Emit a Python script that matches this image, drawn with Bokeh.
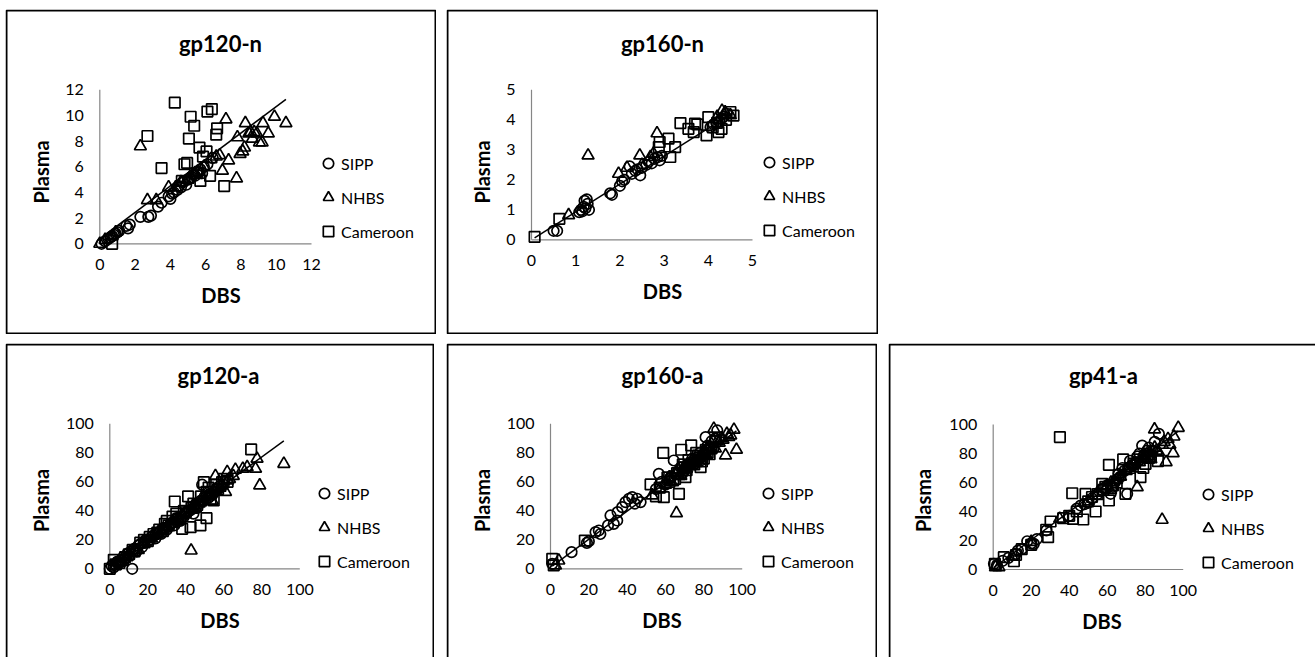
from bokeh.plotting import figure
from bokeh.models import Range1d, FixedTicker, Label, Legend, LegendItem, Spacer, BoxAnnotation
from bokeh.layouts import row, column
from bokeh.embed import file_html
from bokeh.resources import INLINE

FONT = "Lato"

# ---------------- data ----------------
titles = ["gp120-n", "gp160-n", "gp120-a", "gp160-a", "gp41-a"]
series_names = ["SIPP", "NHBS", "Cameroon"]

# gp120-n
sipp1_x = [0.1, 0.3, 0.5, 0.6, 0.7, 0.8, 0.9, 1.0, 1.1, 1.5, 1.6, 1.7, 2.3, 2.75, 2.9, 3.3, 3.5, 3.9, 4.0, 4.1, 4.2, 4.4, 4.5, 4.6, 4.7, 4.8, 4.9, 5.0, 5.1, 5.2, 5.3, 5.4, 5.5, 5.6, 5.7, 5.8, 5.9, 6.1, 6.4]
sipp1_y = [0.0, 0.2, 0.4, 0.5, 0.6, 0.7, 0.8, 0.9, 1.0, 1.4, 1.2, 1.5, 2.1, 2.1, 2.2, 2.9, 3.2, 3.7, 3.5, 3.9, 4.0, 4.2, 4.5, 4.4, 4.8, 4.9, 4.6, 5.0, 5.1, 5.2, 5.4, 5.3, 5.6, 5.6, 5.8, 5.5, 6.0, 6.2, 6.7]
nhbs1_x = [0.0, 0.3, 0.7, 0.9, 2.3, 2.7, 3.2, 3.9, 4.3, 4.6, 5.0, 5.4, 5.9, 6.3, 6.6, 6.8, 6.95, 7.15, 7.3, 7.75, 7.8, 7.95, 8.1, 8.2, 8.25, 8.45, 8.55, 8.65, 8.75, 8.9, 9.05, 9.2, 9.25, 9.55, 9.9, 10.55]
nhbs1_y = [0.0, 0.3, 0.6, 0.9, 7.6, 3.4, 3.4, 4.4, 4.4, 4.8, 5.0, 5.5, 6.0, 6.6, 6.8, 6.9, 5.7, 9.7, 6.5, 5.1, 8.3, 7.0, 7.2, 7.5, 9.4, 8.6, 8.7, 8.2, 8.7, 8.6, 7.9, 7.9, 9.4, 8.6, 9.9, 9.4]
cam1_x = [0.7, 2.7, 3.5, 4.25, 4.65, 4.8, 4.95, 5.05, 5.15, 5.35, 5.5, 5.65, 5.7, 5.85, 6.05, 6.1, 6.25, 6.35, 6.6, 6.65, 7.05]
cam1_y = [0.0, 8.4, 5.9, 11.0, 4.9, 6.2, 6.3, 8.2, 9.9, 9.2, 5.5, 7.5, 4.9, 6.8, 7.2, 10.3, 5.3, 10.5, 8.5, 9.0, 4.5]

# gp160-n
sipp2_x = [0.5, 0.58, 1.08, 1.12, 1.15, 1.18, 1.2, 1.22, 1.25, 1.27, 1.3, 1.78, 1.82, 2.0, 2.05, 2.1, 2.22, 2.27, 2.35, 2.4, 2.46, 2.5, 2.6, 2.65, 2.72, 2.78, 2.85, 2.9, 2.95, 4.05, 4.12, 4.18, 4.25, 4.3, 4.35, 4.42]
sipp2_y = [0.3, 0.3, 0.92, 1.0, 0.95, 1.1, 1.3, 1.05, 1.35, 1.2, 1.0, 1.55, 1.5, 1.8, 1.95, 2.0, 2.45, 2.2, 2.3, 2.35, 2.15, 2.4, 2.5, 2.6, 2.55, 2.7, 2.75, 2.65, 2.8, 3.75, 3.85, 3.9, 3.95, 4.05, 4.1, 4.2]
nhbs2_x = [0.84, 1.28, 1.97, 2.16, 2.45, 2.5, 2.69, 2.76, 2.84, 4.2, 4.31, 4.38, 4.5]
nhbs2_y = [0.82, 2.81, 2.2, 2.4, 2.81, 2.5, 2.76, 2.87, 3.55, 4.1, 4.3, 4.25, 4.15]
cam2_x = [0.07, 0.63, 2.88, 2.9, 3.1, 3.14, 3.25, 3.37, 3.55, 3.67, 3.7, 3.75, 3.96, 4.0, 4.1, 4.2, 4.23, 4.3, 4.4, 4.5, 4.57]
cam2_y = [0.1, 0.7, 3.09, 3.26, 3.37, 2.76, 3.09, 3.89, 3.7, 3.59, 3.87, 3.85, 3.48, 4.09, 3.75, 3.9, 3.59, 3.7, 4.0, 4.26, 4.14]

# gp120-a
sipp3_x = [0, 1, 2, 3, 4, 5, 6, 7, 8, 9, 10, 11.8, 12, 13, 14, 15, 16, 17, 18, 19, 20, 21, 22, 23, 24, 25, 26, 27, 28, 29, 30, 31, 32, 33, 34, 35, 36, 37, 38, 39, 40, 41, 42, 43, 44, 45, 46, 47, 48, 48.6, 49, 50, 51, 52, 53, 54, 55, 56, 57, 58, 60]
sipp3_y = [0, 2, 1, 3, 5, 4, 6, 8, 7, 10, 11, 0, 13, 14, 12, 16, 17, 15, 18, 20, 19, 20, 22, 23, 21, 25, 25, 24, 28, 28, 27, 29, 31, 32, 30, 35, 35, 33, 36, 36, 38, 40, 40, 41, 38, 44, 42, 45, 47, 58, 47, 50, 50, 49, 52, 51, 53, 55, 55, 57, 58]
nhbs3_x = [3, 5, 6, 9, 10, 12, 15, 18, 20, 22, 25, 28, 30, 33, 35, 36, 38, 40, 42.8, 43, 45, 47, 48, 50, 52, 53.9, 55.6, 56, 58, 59, 60.9, 61.8, 62, 63, 65, 66.1, 70, 72.3, 76.7, 77.5, 78.9, 91.6]
nhbs3_y = [2, 4, 5, 8, 9, 11, 13, 17, 19, 21, 24, 27, 29, 31, 33, 34, 37, 39, 12.6, 41, 42, 45, 46, 48, 50, 47, 64, 55, 56, 58, 53, 66.7, 61, 62, 64, 68.3, 69, 70.1, 69, 75.9, 57.5, 72.4]
cam3_x = [0, 2.1, 3, 5, 7, 8, 10, 12, 13, 16, 18, 20, 21, 23, 25, 26, 28, 29, 30, 31, 33, 34.2, 35, 36, 38.1, 39, 40, 41.2, 42.5, 43, 44, 46, 47.7, 48, 49.5, 50.9, 51, 52, 53, 54.7, 56, 57, 59.1, 60, 62, 74.4]
cam3_y = [0, 6.2, 3, 4, 6, 8, 10, 13, 12, 18, 20, 19, 22, 24, 25, 27, 26, 31, 33, 30, 36, 46.4, 38, 34, 27.6, 40, 39, 49.9, 28.7, 42, 45, 44, 29.9, 50, 59.8, 34.9, 53, 56, 48, 47.1, 58, 55, 59.8, 62, 60, 82.3]

# gp160-a
sipp4_x = [0.9, 11, 19, 20, 23.5, 25.2, 26, 30, 31.3, 33, 34.8, 35, 37.4, 39.1, 40.9, 42.6, 44, 45.2, 47, 55, 56.5, 58, 60, 62, 63, 64.3, 66, 67, 68, 69, 70, 71, 72, 73, 74, 75, 76, 77, 78, 79, 80.9, 81, 82, 83, 84, 85, 86, 87]
sipp4_y = [3.4, 11.5, 17.9, 19, 25.3, 26.4, 24, 30, 36.8, 31, 33.3, 39.1, 42.5, 46, 48.3, 49.4, 45, 48.3, 46, 55, 65.5, 60, 58, 62, 64, 74.7, 66, 68, 70, 66, 68, 71, 72, 73, 76, 72, 74, 77, 80, 75, 90.8, 82, 85, 84, 88, 83, 90, 95.4]
nhbs4_x = [2.6, 4.3, 53, 57, 60, 62, 63, 65.7, 66, 67, 68, 69, 70, 71, 72, 73, 74, 75, 76, 77, 78, 79, 80, 81, 82, 83, 84, 85.2, 86, 87, 88, 89, 90, 91.3, 92, 93, 94, 95.7, 97]
nhbs4_y = [2.3, 5.7, 50.6, 55, 58, 63, 60, 38.4, 66, 64, 64, 68, 70, 69, 72, 73, 75, 74, 73, 76, 77, 78, 80, 79, 82, 84, 86, 96.6, 83, 88, 87, 90, 89, 78.2, 93, 91, 92, 95.9, 82.1]
cam4_x = [0.9, 1.7, 17.9, 52.2, 55, 57, 58.8, 59.1, 61, 62, 64, 65, 66, 67, 68.2, 69, 70, 70.4, 71, 72, 73.4, 74, 75, 76, 77, 78.3, 79, 80, 81, 82, 83, 84, 86]
cam4_y = [6.9, 2.3, 19.5, 58.2, 50, 56, 80, 49.4, 63, 60, 61, 62, 66, 51.7, 82.1, 72, 70, 63.2, 68, 75, 85.1, 73, 72, 80, 78, 70.1, 74, 76, 82, 80, 79, 83, 88]

# gp41-a
sipp5_x = [0.4, 2, 5, 8, 11.8, 13, 15, 17.9, 20, 21.4, 23, 28, 40, 44, 46, 48, 50, 52, 55, 57, 58, 60, 61.8, 63, 64, 65, 66, 67, 68, 69, 70.5, 71, 72, 73, 74, 75, 76, 77, 78.4, 79, 80, 81, 82, 83, 84, 85, 87.2]
sipp5_y = [3.9, 3, 6, 8, 10.8, 13, 14, 19.5, 18, 17.7, 21, 27, 37, 42, 44.1, 45, 46, 49, 52, 55, 56, 58, 52.2, 57, 60, 62, 66, 64, 70, 68, 52.2, 70, 75, 72, 72, 74, 78, 80, 85.5, 78, 80, 82, 84, 79, 82, 88, 93.6]
nhbs5_x = [1.2, 3, 10, 20, 35, 50, 55, 60, 62, 65, 67, 70, 72, 74, 75.8, 77, 79, 80, 82, 83, 84.9, 85, 86, 87, 88.9, 89, 90, 91, 92, 93, 94.7, 95.1, 97.4]
nhbs5_y = [1.6, 1.6, 9, 19, 35, 47, 53, 58, 60, 62, 64, 68, 70, 73, 56.8, 74, 77, 78, 80, 76, 96.6, 84, 82, 81, 34.3, 86, 88, 74, 90, 86, 80.2, 91.7, 97.7]
cam5_x = [0.9, 5.6, 10.9, 12, 15, 20, 27.9, 28.9, 30.2, 35.1, 36.8, 40, 41.6, 42, 44, 47.4, 48.6, 50, 52, 53.9, 55, 57.4, 58, 59, 60.9, 60.9, 62, 63, 65, 66, 68.4, 69.6, 72, 74, 76, 77.5, 79, 80.2, 82, 83, 86.7]
cam5_y = [3.9, 8.5, 5.7, 10, 14, 17, 27.4, 22.3, 33.1, 91.3, 35.4, 37, 52.6, 34.9, 40, 34.5, 52.2, 47, 50, 40, 52, 59.1, 55, 57, 72.2, 47.6, 56, 58, 60, 65, 75.9, 52.2, 70, 73, 76, 63.7, 70, 72.9, 77, 78, 74.7]

# linear trendlines (slope, intercept)
trend_slope = [1.03, 0.93, 0.955, 0.97, 0.97]
trend_intercept = [0.39, 0.0, 0.7, 1.0, 1.0]

tick_sets = [[0, 2, 4, 6, 8, 10, 12], [0, 1, 2, 3, 4, 5],
             [0, 20, 40, 60, 80, 100], [0, 20, 40, 60, 80, 100], [0, 20, 40, 60, 80, 100]]

series = [
    ((sipp1_x, sipp1_y), (nhbs1_x, nhbs1_y), (cam1_x, cam1_y)),
    ((sipp2_x, sipp2_y), (nhbs2_x, nhbs2_y), (cam2_x, cam2_y)),
    ((sipp3_x, sipp3_y), (nhbs3_x, nhbs3_y), (cam3_x, cam3_y)),
    ((sipp4_x, sipp4_y), (nhbs4_x, nhbs4_y), (cam4_x, cam4_y)),
    ((sipp5_x, sipp5_y), (nhbs5_x, nhbs5_y), (cam5_x, cam5_y)),
]

# ---------------- layout (page pixels; Bokeh page has no body margin) ----------------
geoms = [
    dict(box=(5, 9, 431, 325), origin=(99.3, 243.3), xmax_px=311, ymax_px=89.3, title=(220, 43), leg=(328, 163), ylab=9, cut=False),
    dict(box=(446, 9, 432, 325), origin=(531, 239.3), xmax_px=752, ymax_px=89.3, title=(662, 43), leg=(769, 162), ylab=9, cut=False),
    dict(box=(5, 343, 429, 314), origin=(109.3, 568.3), xmax_px=299.3, ymax_px=423.3, title=(218, 375), leg=(324, 493), ylab=10, cut=True),
    dict(box=(446, 343, 431, 314), origin=(550, 568.3), xmax_px=741.7, ymax_px=423.3, title=(662, 375), leg=(768, 493), ylab=10, cut=True),
    dict(box=(888, 343, 427, 314), origin=(992.7, 569), xmax_px=1182.7, ymax_px=424, title=(1103, 375), leg=(1208, 494), ylab=12, cut=True),
]

GLYPH = 26
SPACING = 8


def make_panel(i):
    g = geoms[i]
    ticks = tick_sets[i]
    vmax = ticks[-1]
    bx, by, bw, bh = g["box"]
    ox, oy = g["origin"]
    sx = (g["xmax_px"] - ox) / vmax
    sy = (oy - g["ymax_px"]) / vmax
    # the plot frame covers the whole panel; data 0..vmax lands on the plot area
    p = figure(width=bw, height=bh, output_backend="svg", toolbar_location=None, title=None,
               x_range=Range1d(-(ox - bx) / sx, vmax + (bx + bw - g["xmax_px"]) / sx),
               y_range=Range1d(-(by + bh - oy) / sy, vmax + (g["ymax_px"] - by) / sy),
               min_border=0)
    p.min_border_left = 0
    p.min_border_right = 0
    p.min_border_top = 0
    p.min_border_bottom = 0
    p.outline_line_color = None
    p.xgrid.visible = False
    p.ygrid.visible = False
    p.background_fill_color = "white"
    p.border_fill_color = "white"

    for ax in (p.xaxis[0], p.yaxis[0]):
        ax.ticker = FixedTicker(ticks=ticks)
        ax.fixed_location = 0
        ax.axis_line_color = None
        ax.major_tick_line_color = None
        ax.minor_tick_line_color = None
        ax.major_tick_out = 0
        ax.major_tick_in = 0
        ax.minor_tick_out = 0
        ax.minor_tick_in = 0
        ax.major_label_text_font = FONT
        ax.major_label_text_font_size = "16px"
        ax.major_label_text_color = "black"
        ax.axis_label_text_font = FONT
        ax.axis_label_text_font_style = "bold"
        ax.axis_label_text_font_size = "20px"
        ax.axis_label_text_color = "black"
    p.xaxis[0].axis_label = "DBS"
    p.yaxis[0].axis_label = "Plasma"
    p.xaxis[0].major_label_standoff = 15
    p.yaxis[0].major_label_standoff = 16
    p.xaxis[0].axis_label_standoff = 10
    p.yaxis[0].axis_label_standoff = g["ylab"]

    # axis lines from 0 to the last tick
    p.line([ticks[0], ticks[-1]], [0, 0], line_color="#868686", line_width=1.2)
    p.line([0, 0], [ticks[0], ticks[-1]], line_color="#868686", line_width=1.2)

    markers = ["circle", "triangle", "square"]
    sizes = [10.5, 12, 10.5]
    rends = []
    for (xs, ys), m, s in zip(series[i], markers, sizes):
        r = p.scatter(xs, ys, marker=m, size=s, fill_color=None,
                      line_color="black", line_width=1.7)
        rends.append(r)

    allx = [v for (xs, _ys) in series[i] for v in xs]
    tx = [min(allx), max(allx)]
    ty = [trend_slope[i] * v + trend_intercept[i] for v in tx]
    p.line(tx, ty, line_color="black", line_width=1.5)

    tx_, ty_ = g["title"]
    p.add_layout(Label(x=tx_ - bx, y=by + bh - ty_, x_units="screen", y_units="screen",
                       text=titles[i], text_align="center", text_baseline="middle",
                       text_font=FONT, text_font_style="bold", text_font_size="22px",
                       text_color="black"))

    lx, ly = g["leg"]
    leg_h = 3 * GLYPH + 2 * SPACING
    legend = Legend(items=[LegendItem(label=n, renderers=[r]) for n, r in zip(series_names, rends)],
                    location=(lx - GLYPH / 2 - bx, by + bh - (ly - GLYPH / 2 + leg_h)),
                    margin=0, padding=0, spacing=SPACING,
                    glyph_width=GLYPH, glyph_height=GLYPH, label_height=GLYPH,
                    label_standoff=-2, label_text_font=FONT, label_text_font_size="16px",
                    label_text_color="black", border_line_color=None,
                    background_fill_alpha=0)
    p.add_layout(legend, "center")

    # chart-area border (bottom row is cropped at the page edge, as in the source image)
    ext = 6 if g["cut"] else 0
    p.add_layout(BoxAnnotation(left=1, right=bw - 1 + (ext if i == 4 else 0),
                               bottom=1 - ext, top=bh - 1,
                               left_units="screen", right_units="screen",
                               top_units="screen", bottom_units="screen",
                               fill_color=None, fill_alpha=0,
                               line_color="black", line_width=2, line_alpha=1))
    return p


panels = [make_panel(i) for i in range(5)]
row1 = row(Spacer(width=5, height=325), panels[0], Spacer(width=10, height=325), panels[1])
row2 = row(Spacer(width=5, height=314), panels[2], Spacer(width=12, height=314), panels[3],
           Spacer(width=11, height=314), panels[4])
layout = column(Spacer(width=10, height=9), row1, Spacer(width=10, height=9), row2)

open("out.html", "w").write(file_html(layout, INLINE))
